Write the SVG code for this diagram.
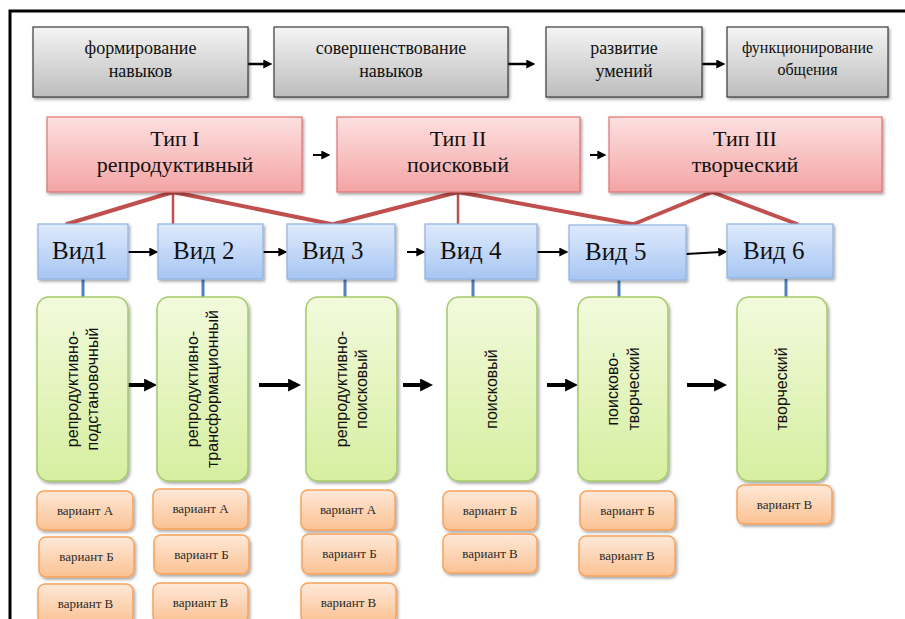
<svg xmlns="http://www.w3.org/2000/svg" width="905" height="619" viewBox="0 0 905 619">
<style>
.gray{fill:url(#gGray);stroke:#3a3a3a;stroke-width:1.2}
.red{fill:url(#gRed);stroke:#e07272;stroke-width:1.2}
.blue{fill:url(#gBlue);stroke:#8eb2e2;stroke-width:1.2}
.green{fill:url(#gGreen);stroke:#a6c96a;stroke-width:1.5}
.orange{fill:url(#gOrange);stroke:#f7a35c;stroke-width:1.5}
.t{font-family:"Liberation Serif","Times New Roman",serif;fill:#111;text-anchor:middle}
.t18{font-size:18px}
.t16{font-size:16px}
.t22{font-size:22px}
.vid{font-family:"Liberation Serif","Times New Roman",serif;font-size:25px;fill:#111}
.gt{font-family:"Liberation Sans",Arial,sans-serif;font-size:16px;fill:#111;text-anchor:middle}
.vt{font-family:"Liberation Serif","Times New Roman",serif;font-size:13px;fill:#2a2a2a;text-anchor:middle}
.rl{stroke:#c0504d;stroke-width:4;fill:none;stroke-linecap:round}
.rv{stroke:#c0504d;stroke-width:2.5;fill:none}
.bs{stroke:#4f81bd;stroke-width:3;fill:none}
.ar{stroke:#000;stroke-width:2;fill:none;marker-end:url(#ah)}
.ar2{stroke:#000;stroke-width:2.5;fill:none;marker-end:url(#ah)}
.arb{stroke:#000;stroke-width:4;fill:none;marker-end:url(#ahb)}
</style>
<defs>
<linearGradient id="gGray" x1="0" y1="0" x2="0" y2="1"><stop offset="0" stop-color="#f4f4f4"/><stop offset="1" stop-color="#bdbdbd"/></linearGradient>
<linearGradient id="gRed" x1="0" y1="0" x2="0" y2="1"><stop offset="0" stop-color="#fde0e0"/><stop offset="1" stop-color="#f4a4a4"/></linearGradient>
<linearGradient id="gBlue" x1="0" y1="0" x2="0" y2="1"><stop offset="0" stop-color="#dfeafc"/><stop offset="1" stop-color="#a7c6f3"/></linearGradient>
<linearGradient id="gGreen" x1="0" y1="0" x2="0" y2="1"><stop offset="0" stop-color="#f2fadc"/><stop offset="1" stop-color="#d6efa0"/></linearGradient>
<linearGradient id="gOrange" x1="0" y1="0" x2="0" y2="1"><stop offset="0" stop-color="#fee8d8"/><stop offset="1" stop-color="#fbc293"/></linearGradient>
<filter id="sh" x="-10%" y="-10%" width="130%" height="140%"><feDropShadow dx="1.5" dy="2" stdDeviation="1.5" flood-color="#000" flood-opacity="0.35"/></filter>
<marker id="ah" viewBox="0 0 10 10" refX="3" refY="5" markerWidth="9" markerHeight="9" markerUnits="userSpaceOnUse" orient="auto"><path d="M0,0 L10,5 L0,10 z" fill="#000"/></marker>
<marker id="ahb" viewBox="0 0 10 10" refX="3" refY="5" markerWidth="13" markerHeight="13" markerUnits="userSpaceOnUse" orient="auto"><path d="M0,0 L10,5 L0,10 z" fill="#000"/></marker>
</defs>
<rect width="905" height="619" fill="#fff"/>
<path d="M10,619 V11 H905" fill="none" stroke="#000" stroke-width="3"/>

<g id="connectors">
<line class="ar2" x1="248" y1="64" x2="266" y2="64"/>
<line class="ar2" x1="508" y1="64" x2="529" y2="64"/>
<line class="ar2" x1="702" y1="64" x2="719" y2="64"/>
<line class="ar" x1="313" y1="155" x2="324" y2="155"/>
<line class="ar" x1="590" y1="155" x2="600" y2="155"/>
<path class="rl" d="M173,192 L67,224 M173,192 L331,224 M458,192 L334,224 M458,192 L632,224 M712,192 L634,224 M712,192 L797,224"/>
<path class="rv" d="M173,192 V224 M458,192 V224"/>
<line class="ar" x1="128" y1="252" x2="152" y2="252"/>
<line class="ar" x1="263" y1="252" x2="281" y2="252"/>
<line class="ar" x1="407" y1="252" x2="419" y2="252"/>
<line class="ar" x1="537" y1="252" x2="562" y2="252"/>
<line class="ar" x1="686" y1="254" x2="721" y2="252"/>
<path class="bs" d="M83,279 V297 M203,279 V297 M345,279 V297 M473,279 V297 M619,279 V297 M786,279 V297"/>
<line class="arb" x1="128" y1="385" x2="148" y2="385"/>
<line class="arb" x1="259" y1="385" x2="292" y2="385"/>
<line class="arb" x1="403" y1="385" x2="424" y2="385"/>
<line class="arb" x1="547" y1="385" x2="569" y2="385"/>
<line class="arb" x1="687" y1="385" x2="718" y2="385"/>
</g>

<g id="top1"><rect class="gray" filter="url(#sh)" x="33" y="27" width="215" height="70"/><text class="t t18" x="140.5" y="54">формирование</text><text class="t t18" x="140.5" y="77">навыков</text></g>
<g id="top2"><rect class="gray" filter="url(#sh)" x="274" y="27" width="234" height="70"/><text class="t t18" x="391" y="54">совершенствование</text><text class="t t18" x="391" y="77">навыков</text></g>
<g id="top3"><rect class="gray" filter="url(#sh)" x="546" y="27" width="156" height="70"/><text class="t t18" x="624" y="54">развитие</text><text class="t t18" x="624" y="77">умений</text></g>
<g id="top4"><rect class="gray" filter="url(#sh)" x="727" y="27" width="161" height="70"/><text class="t t16" x="807.5" y="53">функционирование</text><text class="t t16" x="807.5" y="75">общения</text></g>

<g id="type1"><rect class="red" filter="url(#sh)" x="47" y="117" width="255" height="75"/><text class="t t22" x="175" y="146">Тип I</text><text class="t t22" x="175" y="172">репродуктивный</text></g>
<g id="type2"><rect class="red" filter="url(#sh)" x="337" y="117" width="243" height="75"/><text class="t t22" x="458" y="146">Тип II</text><text class="t t22" x="458" y="172">поисковый</text></g>
<g id="type3"><rect class="red" filter="url(#sh)" x="609" y="117" width="273" height="75"/><text class="t t22" x="745" y="146">Тип III</text><text class="t t22" x="745" y="172">творческий</text></g>

<g id="vid1"><rect class="blue" filter="url(#sh)" x="38" y="224" width="90" height="55"/><text class="vid" x="52" y="259">Вид1</text></g>
<g id="vid2"><rect class="blue" filter="url(#sh)" x="158" y="224" width="105" height="55"/><text class="vid" x="173" y="259">Вид 2</text></g>
<g id="vid3"><rect class="blue" filter="url(#sh)" x="287" y="224" width="108" height="55"/><text class="vid" x="302" y="259">Вид 3</text></g>
<g id="vid4"><rect class="blue" filter="url(#sh)" x="425" y="224" width="112" height="55"/><text class="vid" x="440" y="259">Вид 4</text></g>
<g id="vid5"><rect class="blue" filter="url(#sh)" x="569" y="225" width="117" height="55"/><text class="vid" x="585" y="260">Вид 5</text></g>
<g id="vid6"><rect class="blue" filter="url(#sh)" x="727" y="224" width="106" height="54"/><text class="vid" x="743" y="259">Вид 6</text></g>

<g id="kind1"><rect class="green" filter="url(#sh)" x="37" y="297" width="91" height="184" rx="12"/><g transform="translate(82.5,389) rotate(-90)"><text class="gt" y="-5">репродуктивно-</text><text class="gt" y="15.5">подстановочный</text></g></g>
<g id="kind2"><rect class="green" filter="url(#sh)" x="157" y="297" width="91" height="184" rx="12"/><g transform="translate(202.5,389) rotate(-90)"><text class="gt" y="-5">репродуктивно-</text><text class="gt" y="15.5">трансформационный</text></g></g>
<g id="kind3"><rect class="green" filter="url(#sh)" x="306" y="297" width="91" height="184" rx="12"/><g transform="translate(351.5,389) rotate(-90)"><text class="gt" y="-5">репродуктивно-</text><text class="gt" y="15.5">поисковый</text></g></g>
<g id="kind4"><rect class="green" filter="url(#sh)" x="447" y="297" width="90" height="184" rx="12"/><g transform="translate(492,389) rotate(-90)"><text class="gt" y="5">поисковый</text></g></g>
<g id="kind5"><rect class="green" filter="url(#sh)" x="578" y="297" width="90" height="184" rx="12"/><g transform="translate(623,389) rotate(-90)"><text class="gt" y="-5">поисково-</text><text class="gt" y="15.5">творческий</text></g></g>
<g id="kind6"><rect class="green" filter="url(#sh)" x="737" y="297" width="90" height="184" rx="12"/><g transform="translate(782,389) rotate(-90)"><text class="gt" y="5">творческий</text></g></g>

<g id="v1a"><rect class="orange" filter="url(#sh)" x="37" y="491" width="96" height="39" rx="7"/><text class="vt" x="85" y="515">вариант А</text></g>
<g id="v1b"><rect class="orange" filter="url(#sh)" x="39" y="537" width="95" height="40" rx="7"/><text class="vt" x="86.5" y="561">вариант Б</text></g>
<g id="v1c"><rect class="orange" filter="url(#sh)" x="38" y="584" width="95" height="40" rx="7"/><text class="vt" x="85.5" y="608">вариант В</text></g>
<g id="v2a"><rect class="orange" filter="url(#sh)" x="153" y="489" width="95" height="40" rx="7"/><text class="vt" x="200.5" y="513">вариант А</text></g>
<g id="v2b"><rect class="orange" filter="url(#sh)" x="154" y="535" width="95" height="39" rx="7"/><text class="vt" x="201.5" y="559">вариант Б</text></g>
<g id="v2c"><rect class="orange" filter="url(#sh)" x="153" y="583" width="95" height="40" rx="7"/><text class="vt" x="200.5" y="607">вариант В</text></g>
<g id="v3a"><rect class="orange" filter="url(#sh)" x="301" y="490" width="94" height="40" rx="7"/><text class="vt" x="348" y="514">вариант А</text></g>
<g id="v3b"><rect class="orange" filter="url(#sh)" x="302" y="534" width="95" height="40" rx="7"/><text class="vt" x="349.5" y="558">вариант Б</text></g>
<g id="v3c"><rect class="orange" filter="url(#sh)" x="301" y="583" width="95" height="40" rx="7"/><text class="vt" x="348.5" y="607">вариант В</text></g>
<g id="v4b"><rect class="orange" filter="url(#sh)" x="443" y="491" width="94" height="39" rx="7"/><text class="vt" x="490" y="515">вариант Б</text></g>
<g id="v4c"><rect class="orange" filter="url(#sh)" x="443" y="534" width="94" height="39" rx="7"/><text class="vt" x="490" y="558">вариант В</text></g>
<g id="v5b"><rect class="orange" filter="url(#sh)" x="580" y="491" width="95" height="39" rx="7"/><text class="vt" x="627.5" y="515">вариант Б</text></g>
<g id="v5c"><rect class="orange" filter="url(#sh)" x="579" y="536" width="96" height="40" rx="7"/><text class="vt" x="627" y="560">вариант В</text></g>
<g id="v6c"><rect class="orange" filter="url(#sh)" x="737" y="485" width="95" height="39" rx="7"/><text class="vt" x="784.5" y="509">вариант В</text></g>
</svg>
